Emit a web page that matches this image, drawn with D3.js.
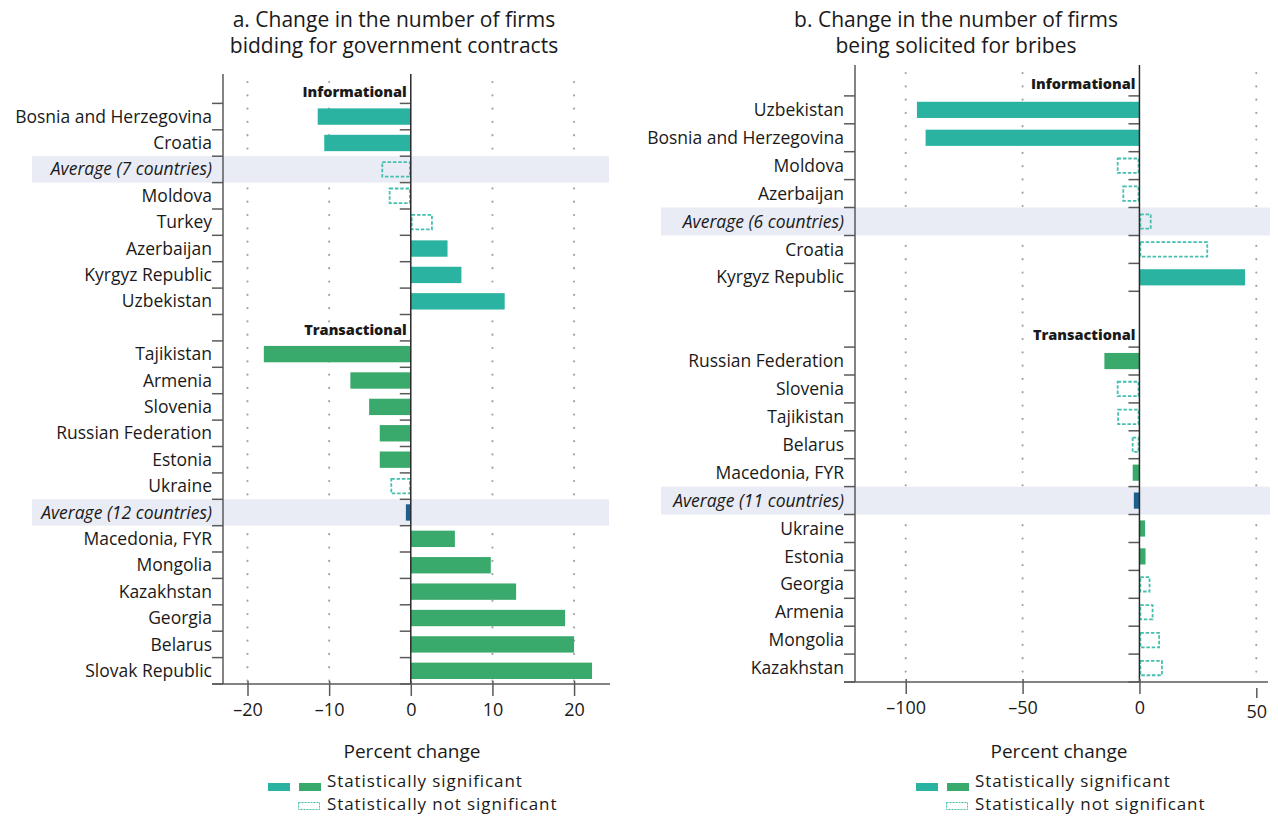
<!DOCTYPE html>
<html>
<head>
<meta charset="utf-8">
<script src="https://cdn.jsdelivr.net/npm/d3@7"></script>
<style>
body { margin: 0; background: #fff; }
text { font-family: 'Open Sans', Lato, sans-serif; fill: #1a1a1a; }
</style>
</head>
<body>
<div id="main"></div>
<script>
// panel a: bidding for government contracts
const infoNamesA = ['Bosnia and Herzegovina', 'Croatia', 'Average (7 countries)', 'Moldova', 'Turkey', 'Azerbaijan', 'Kyrgyz Republic', 'Uzbekistan'];
const infoValuesA = [-11.4, -10.6, -3.6, -2.7, 2.7, 4.5, 6.2, 11.5];
const infoSigA = [1, 1, 0, 0, 0, 1, 1, 1];
const transNamesA = ['Tajikistan', 'Armenia', 'Slovenia', 'Russian Federation', 'Estonia', 'Ukraine', 'Average (12 countries)', 'Macedonia, FYR', 'Mongolia', 'Kazakhstan', 'Georgia', 'Belarus', 'Slovak Republic'];
const transValuesA = [-18.0, -7.4, -5.1, -3.8, -3.8, -2.5, -0.6, 5.4, 9.8, 12.9, 18.9, 20.0, 22.2];
const transSigA = [1, 1, 1, 1, 1, 0, 1, 1, 1, 1, 1, 1, 1];
const ticksA = [-20, -10, 0, 10, 20];

// panel b: solicited for bribes
const infoNamesB = ['Uzbekistan', 'Bosnia and Herzegovina', 'Moldova', 'Azerbaijan', 'Average (6 countries)', 'Croatia', 'Kyrgyz Republic'];
const infoValuesB = [-95.2, -91.5, -9.7, -7.3, 5.2, 29.4, 45.2];
const infoSigB = [1, 1, 0, 0, 0, 0, 1];
const transNamesB = ['Russian Federation', 'Slovenia', 'Tajikistan', 'Belarus', 'Macedonia, FYR', 'Average (11 countries)', 'Ukraine', 'Estonia', 'Georgia', 'Armenia', 'Mongolia', 'Kazakhstan'];
const transValuesB = [-15.0, -9.7, -9.5, -3.3, -2.9, -2.4, 2.4, 2.6, 4.7, 6.0, 8.8, 10.0];
const transSigB = [1, 0, 0, 0, 1, 1, 1, 1, 0, 0, 0, 0];
const ticksB = [-100, -50, 0, 50];

const width = 1278, height = 819;
const svg = d3.select('#main').append('svg').attr('width', width).attr('height', height);

const colors = {
    info: '#29b3a0',
    trans: '#3aa96c',
    avg: '#1d6090',
    dash: '#45bfae',
    band: '#e9ebf5',
    grid: '#a5a5a5',
    axis: '#5a5a5a'
};

function makeRows(names, values, sig, group) {
    return names.map((n, i) => ({
        name: n, value: values[i], sig: sig[i], group: group, avg: n.startsWith('Average')
    }));
}

function barColor(d) {
    if (d.avg) return colors.avg;
    return d.group === 'info' ? colors.info : colors.trans;
}

function drawPanel(p) {
    const g = svg.append('g');
    const data = p.info.concat(p.trans);

    const x = d3.scaleLinear().domain(p.xDomain).range(p.xRange);
    const y = d3.scaleBand().domain(p.slots).range(p.yRange);
    const bw = y.bandwidth();
    const barH = bw * p.barFrac;
    const x0 = x(0);
    const top = p.yRange[0] - 3, bottom = p.yRange[1];

    // titles
    g.selectAll('.title')
        .data(p.title)
        .enter()
        .append('text')
            .attr('x', p.titleX)
            .attr('y', (d, i) => 27 + i * 26)
            .style('font-size', '21px')
            .style('text-anchor', 'middle')
            .text(d => d);

    // dotted grid
    g.selectAll('.grid')
        .data(p.ticks.filter(t => t !== 0))
        .enter()
        .append('line')
            .attr('x1', d => x(d)).attr('x2', d => x(d))
            .attr('y1', top + 8).attr('y2', bottom)
            .style('stroke', colors.grid)
            .style('stroke-width', 2.2)
            .style('stroke-linecap', 'round')
            .style('stroke-dasharray', '0.1 13.2');

    // average highlight bands
    g.selectAll('.band')
        .data(data.filter(d => d.avg))
        .enter()
        .append('rect')
            .attr('x', p.bandX[0])
            .attr('width', p.bandX[1] - p.bandX[0])
            .attr('y', d => y(d.name))
            .attr('height', bw)
            .style('fill', colors.band);

    // bars
    const bars = g.selectAll('.bar')
        .data(data)
        .enter()
        .append('rect')
            .attr('x', d => Math.min(x(d.value), x0))
            .attr('width', d => Math.abs(x(d.value) - x0))
            .attr('y', d => y(d.name) + (bw - barH) / 2)
            .attr('height', barH);
    bars.filter(d => d.sig)
        .style('fill', barColor);
    bars.filter(d => !d.sig)
        .attr('x', d => Math.min(x(d.value), x0) + 0.9)
        .attr('width', d => Math.max(Math.abs(x(d.value) - x0) - 1.8, 0))
        .attr('y', d => y(d.name) + (bw - barH) / 2 + 0.9)
        .attr('height', barH - 1.8)
        .style('fill', 'none')
        .style('stroke', colors.dash)
        .style('stroke-width', 1.8)
        .style('stroke-dasharray', '3.5 1.8');

    // row boundary ticks next to data rows
    const edges = Array.from(new Set(data.flatMap(d => [y(d.name), y(d.name) + bw]).map(v => Math.round(v * 10) / 10)));
    g.selectAll('.ltick')
        .data(edges)
        .enter()
        .append('line')
            .attr('x1', p.xRange[0] - 11).attr('x2', p.xRange[0])
            .attr('y1', d => d).attr('y2', d => d)
            .style('stroke', colors.axis).style('stroke-width', 1.5);
    g.selectAll('.ztick')
        .data(edges)
        .enter()
        .append('line')
            .attr('x1', x0 - 11).attr('x2', x0)
            .attr('y1', d => d).attr('y2', d => d)
            .style('stroke', colors.axis).style('stroke-width', 1.5);

    // left axis and zero line
    g.append('line')
        .attr('x1', p.xRange[0]).attr('x2', p.xRange[0])
        .attr('y1', top).attr('y2', bottom)
        .style('stroke', colors.axis).style('stroke-width', 1.5);
    g.append('line')
        .attr('x1', x0).attr('x2', x0)
        .attr('y1', top).attr('y2', bottom)
        .style('stroke', '#2a2a2a').style('stroke-width', 1.5);

    // row labels
    g.selectAll('.label')
        .data(data)
        .enter()
        .append('text')
            .attr('x', p.xRange[0] - 11)
            .attr('y', d => y(d.name) + bw / 2)
            .attr('dy', '0.35em')
            .style('font-size', '17.5px')
            .style('font-style', d => d.avg ? 'italic' : 'normal')
            .style('text-anchor', 'end')
            .text(d => d.name);

    // group headers
    g.selectAll('.header')
        .data(['Informational', 'Transactional'])
        .enter()
        .append('text')
            .attr('x', x0 - 4)
            .attr('y', d => y(d) + bw / 2 + p.headerShift)
            .attr('dy', '0.35em')
            .style('font-size', '14.5px')
            .style('font-weight', 800)
            .style('text-anchor', 'end')
            .text(d => d);

    // x axis
    const axis = g.append('g')
        .attr('transform', `translate(0,${bottom})`)
        .call(d3.axisBottom(x).tickValues(p.ticks).tickSize(12).tickSizeOuter(0)
            .tickFormat(d => d < 0 ? '\u2013' + Math.abs(d) : d));
    axis.select('.domain').remove();
    axis.selectAll('.tick line')
        .attr('y1', d => d === 50 ? 6 : -3)
        .attr('y2', d => d === 50 ? 16 : 12)
        .style('stroke', colors.axis).style('stroke-width', 1.5);
    axis.selectAll('.tick text')
        .attr('y', d => d === 50 ? 23 : 19)
        .style('font-size', '18px')
        .style('font-family', "'Open Sans', sans-serif")
        .style('fill', '#1a1a1a');
    g.append('line')
        .attr('x1', p.xRange[0] - 11).attr('x2', p.xRange[1])
        .attr('y1', bottom).attr('y2', bottom)
        .style('stroke', colors.axis).style('stroke-width', 1.5);

    g.append('text')
        .attr('x', p.labelX)
        .attr('y', 758)
        .style('font-size', '19px')
        .style('text-anchor', 'middle')
        .text('Percent change');

    // legend
    const lx = p.legendX;
    g.append('rect').attr('x', lx).attr('y', 783).attr('width', 22).attr('height', 8).style('fill', colors.info);
    g.append('rect').attr('x', lx + 31).attr('y', 783).attr('width', 22).attr('height', 8).style('fill', colors.trans);
    g.append('rect').attr('x', lx + 30.5).attr('y', 802.5).attr('width', 21).attr('height', 7)
        .style('fill', 'none').style('stroke', colors.dash).style('stroke-width', 1).style('stroke-dasharray', '2 1');
    g.selectAll('.legtext')
        .data(['Statistically significant', 'Statistically not significant'])
        .enter()
        .append('text')
            .attr('x', lx + 59)
            .attr('y', (d, i) => 781 + i * 23.5)
            .attr('dy', '0.35em')
            .style('font-size', '17px')
            .style('letter-spacing', '0.9px')
            .text(d => d);
}

const rowsInfoA = makeRows(infoNamesA, infoValuesA, infoSigA, 'info');
const rowsTransA = makeRows(transNamesA, transValuesA, transSigA, 'trans');
const rowsInfoB = makeRows(infoNamesB, infoValuesB, infoSigB, 'info');
const rowsTransB = makeRows(transNamesB, transValuesB, transSigB, 'trans');

drawPanel({
    info: rowsInfoA,
    trans: rowsTransA,
    slots: ['Informational'].concat(infoNamesA, ['Transactional'], transNamesA),
    xDomain: [-23, 24.4],
    xRange: [223, 610],
    yRange: [77, 684],
    barFrac: 0.62,
    headerShift: 2,
    ticks: ticksA,
    title: ['a. Change in the number of firms', 'bidding for government contracts'],
    titleX: 394,
    bandX: [32, 609],
    labelX: 412,
    legendX: 268
});

drawPanel({
    info: rowsInfoB,
    trans: rowsTransB,
    slots: ['Informational'].concat(infoNamesB, ['blank', 'Transactional'], transNamesB),
    xDomain: [-121.7, 55],
    xRange: [855, 1268],
    yRange: [68, 682],
    barFrac: 0.58,
    headerShift: 2,
    ticks: ticksB,
    title: ['b. Change in the number of firms', 'being solicited for bribes'],
    titleX: 956,
    bandX: [661, 1270],
    labelX: 1059,
    legendX: 916
});
</script>
</body>
</html>
